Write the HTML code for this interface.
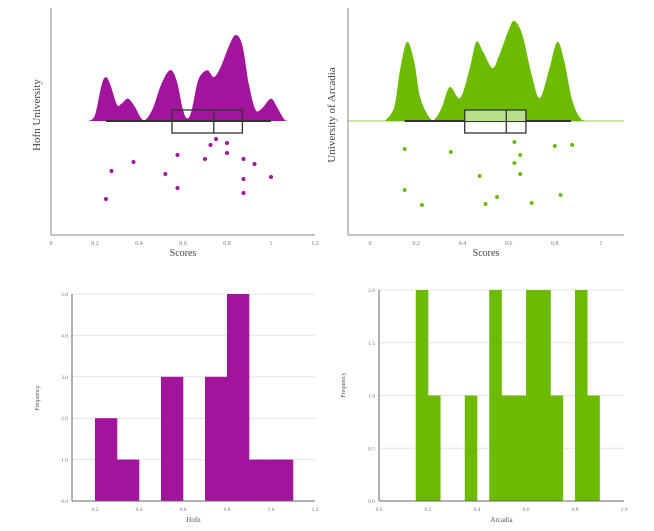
<!DOCTYPE html>
<html><head><meta charset="utf-8"><style>
body{margin:0;background:#fff;width:654px;height:531px;overflow:hidden}
svg{display:block;font-family:"Liberation Serif",serif}
</style></head><body>
<svg id="c" width="654" height="531"></svg>
<script>
// ---- data ----
const hofnPtsX=[0.25,0.275,0.375,0.52,0.575,0.575,0.70,0.725,0.75,0.80,0.80,0.875,0.875,0.875,0.925,1.0];
const hofnPtsY=[199,171,162,174,155,188,159,145,139,143,153,159,179,193,164,177];
const hofnDensX=[0.17,0.20,0.23,0.25,0.27,0.30,0.32,0.35,0.38,0.42,0.46,0.50,0.54,0.57,0.60,0.62,0.64,0.67,0.71,0.74,0.77,0.81,0.84,0.87,0.90,0.93,0.96,1.0,1.03,1.06,1.08];
const hofnDensH=[0,0.07,0.42,0.51,0.42,0.19,0.20,0.26,0.17,0.01,0.13,0.42,0.59,0.48,0.13,0.03,0.13,0.48,0.59,0.51,0.62,0.88,1.0,0.88,0.42,0.13,0.15,0.26,0.15,0.02,0];
const hofnBox=[0.25,0.55,0.74,0.87,1.0];
const arcPtsX=[0.15,0.15,0.225,0.35,0.475,0.50,0.55,0.625,0.625,0.65,0.65,0.70,0.80,0.825,0.875];
const arcPtsY=[149,190,205,152,176,204,197,142,163,155,174,203,146,195,145];
const arcDensX=[0.065,0.105,0.13,0.16,0.19,0.215,0.245,0.275,0.31,0.345,0.39,0.43,0.46,0.49,0.53,0.56,0.60,0.625,0.66,0.70,0.735,0.775,0.81,0.84,0.875,0.91,0.94];
const arcDensH=[0,0.14,0.51,0.79,0.61,0.26,0.08,0.01,0.13,0.34,0.23,0.51,0.79,0.69,0.53,0.66,0.91,1.0,0.86,0.46,0.23,0.51,0.79,0.61,0.21,0.03,0];
const arcBox=[0.15,0.41,0.59,0.675,0.87];
const hofnBins=[0.2,0.3,0.5,0.7,0.8,0.9,1.0];
const hofnCounts=[2,1,3,3,5,1,1];
const hofnYTicks=["0.0","1.0","2.0","3.0","4.0","5.0"];
const hofnXTicks=["0.2","0.4","0.6","0.8","1.0","1.2"];
const arcBins=[0.15,0.2,0.35,0.45,0.5,0.55,0.6,0.65,0.7,0.8,0.85];
const arcCounts=[2,1,1,2,1,1,2,2,1,2,1];
const arcYTicks=["0.0","0.5","1.0","1.5","2.0"];
const arcXTicks=["0.0","0.2","0.4","0.6","0.8","1.0"];
const topTicksH=["0","0.2","0.4","0.6","0.8","1","1.2"];
const topTicksA=["0","0.2","0.4","0.6","0.8","1"];
const PURPLE="#a2149c",GREEN="#6cbb00";
const svg=document.getElementById('c');
const NS="http://www.w3.org/2000/svg";
function mk(t,a,txt){const e=document.createElementNS(NS,t);for(const k in a)e.setAttribute(k,a[k]);if(txt!==undefined)e.textContent=txt;svg.appendChild(e);return e;}
function smooth(pts){let d=`M${pts[0][0]},${pts[0][1]}`;for(let i=0;i<pts.length-1;i++){const p0=pts[i-1]||pts[i],p1=pts[i],p2=pts[i+1],p3=pts[i+2]||p2;
d+=` C${p1[0]+(p2[0]-p0[0])/6},${p1[1]+(p2[1]-p0[1])/6} ${p2[0]-(p3[0]-p1[0])/6},${p2[1]-(p3[1]-p1[1])/6} ${p2[0]},${p2[1]}`;}return d;}

function raincloud(o){
  const sx=v=>o.x0+v*o.k, base=121, amp=o.amp;
  let e;
  if(o.baseline){e=mk('line',{x1:o.ax0,x2:o.ax1,y1:base,y2:base,stroke:'#b8e08a','stroke-width':1.5});
  }
  const pts=o.dx.map((v,i)=>[sx(v),base-o.dh[i]*amp]);
  e=mk('path',{d:smooth(pts)+' Z',fill:o.color});
  
  const b=o.box;
  e=mk('line',{x1:sx(b[0]),x2:sx(b[4]),y1:base,y2:base,stroke:'#333','stroke-width':2});
  
  if(o.fillTop){e=mk('rect',{x:sx(b[1]),y:110,width:sx(b[3])-sx(b[1]),height:11,fill:'#b8e08a'});
  }
  e=mk('rect',{x:sx(b[1]),y:110,width:sx(b[3])-sx(b[1]),height:23,fill:'none',stroke:'#333','stroke-width':1.3});
  
  e=mk('line',{x1:sx(b[2]),x2:sx(b[2]),y1:110,y2:133,stroke:'#333','stroke-width':1.3});
  
  o.px.forEach((v,i)=>{e=mk('circle',{cx:sx(v),cy:o.py[i],r:2,fill:o.color});
  });
  e=mk('line',{x1:o.ax0,x2:o.ax0,y1:8,y2:235,stroke:'#888'});
  
  e=mk('line',{x1:o.ax0,x2:o.ax1,y1:235,y2:235,stroke:'#888'});
  
  o.ticks.forEach((t,i)=>{const x=sx(i*0.2);
    e=mk('text',{x:x,y:245,'font-size':6,'text-anchor':'middle',fill:'#777'},t);
    });
  e=mk('text',{x:(o.ax0+o.ax1)/2,y:256,'font-size':10,'text-anchor':'middle',fill:'#444'},'Scores');
  
  e=mk('text',{x:0,y:0,'font-size':11,'text-anchor':'middle',fill:'#444',transform:`translate(${o.ylx},115) rotate(-90)`},o.ylabel);
  
}
raincloud({name:'hofn',x0:51,k:220,amp:86,ax0:51,ax1:315,dx:hofnDensX,dh:hofnDensH,box:hofnBox,px:hofnPtsX,py:hofnPtsY,color:PURPLE,ticks:topTicksH,ylabel:'Hofn University',ylx:40});
raincloud({name:'arcadia',x0:370,k:231,amp:100,ax0:348,ax1:624,dx:arcDensX,dh:arcDensH,box:arcBox,px:arcPtsX,py:arcPtsY,color:GREEN,ticks:topTicksA,ylabel:'University of Arcadia',ylx:335,baseline:true,fillTop:true});

function hist(o){
  const sx=v=>o.x0+v*o.k, sy=v=>501-v*o.ky;
  let e;
  o.yt.forEach((t,i)=>{const v=i*o.ystep;
    e=mk('line',{x1:o.ax0,x2:o.ax1,y1:sy(v),y2:sy(v),stroke:'#e4e4e4'});
    
    e=mk('text',{x:o.ax0-4,y:sy(v)+2,'font-size':5.5,'text-anchor':'end',fill:'#777'},t);
    });
  o.bins.forEach((b,i)=>{e=mk('rect',{x:sx(b),y:sy(o.counts[i]),width:sx(b+o.w)-sx(b)+0.3,height:sy(0)-sy(o.counts[i]),fill:o.color});
    });
  e=mk('line',{x1:o.ax0,x2:o.ax0,y1:sy(o.ymax),y2:501,stroke:'#666'});
  
  e=mk('line',{x1:o.ax0,x2:o.ax1,y1:501,y2:501,stroke:'#666'});
  
  o.xt.forEach((t,i)=>{const x=sx(o.xs+i*0.2);
    e=mk('text',{x:x,y:511,'font-size':5.5,'text-anchor':'middle',fill:'#777'},t);
    });
  e=mk('text',{x:(o.ax0+o.ax1)/2,y:522,'font-size':7,'text-anchor':'middle',fill:'#555'},o.xlabel);
  
  e=mk('text',{x:0,y:0,'font-size':6,'text-anchor':'middle',fill:'#555',transform:`translate(${o.ylx},${o.yly}) rotate(-90)`},'Frequency');
  
}
hist({name:'hofn-hist',x0:51,k:220,ky:41.4,ax0:72,ax1:315,bins:hofnBins,counts:hofnCounts,w:0.1,yt:hofnYTicks,ystep:1,ymax:5,xt:hofnXTicks,xs:0.2,color:PURPLE,xlabel:'Hofn',ylx:39,yly:398});
hist({name:'arcadia-hist',x0:379,k:245,ky:105.5,ax0:379,ax1:624,bins:arcBins,counts:arcCounts,w:0.05,yt:arcYTicks,ystep:0.5,ymax:2,xt:arcXTicks,xs:0,color:GREEN,xlabel:'Arcadia',ylx:345,yly:385});
</script>
</body></html>
